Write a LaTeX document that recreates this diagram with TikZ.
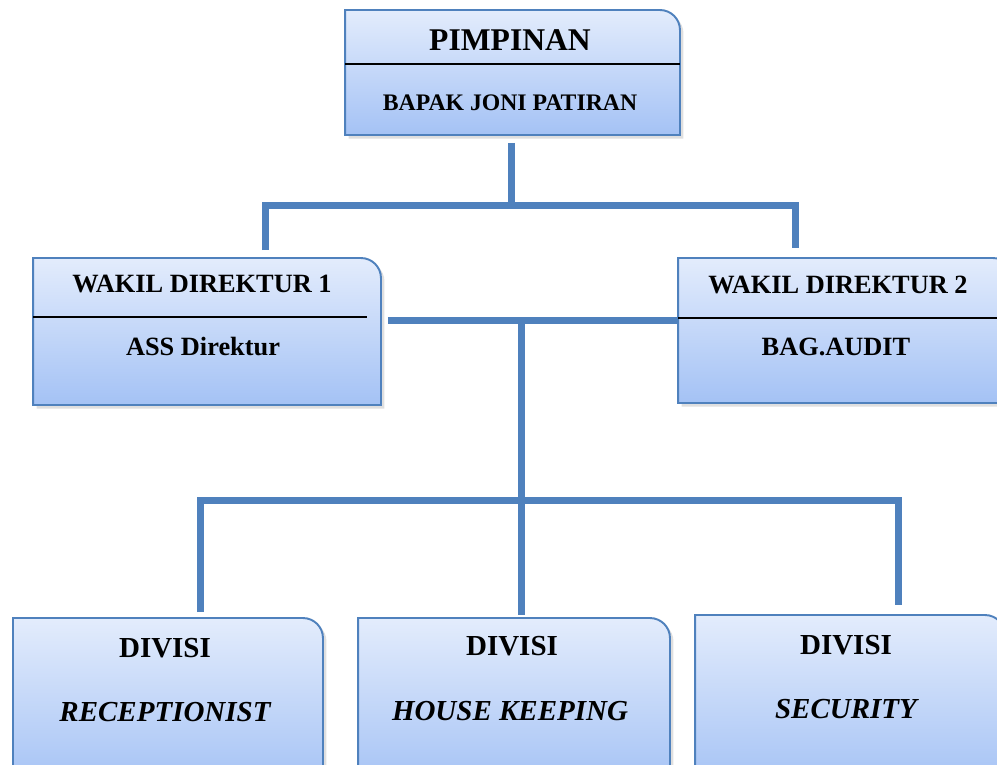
\documentclass[tikz,border=0pt]{standalone}
\usepackage{fontspec}
\setmainfont{Liberation Serif}
\usetikzlibrary{shadows}
\definecolor{BoxTop}{RGB}{227,236,252}
\definecolor{BoxBot}{RGB}{164,194,245}
\definecolor{LineOrg}{RGB}{79,129,189}

% outline of a box with only the top right corner rounded
\newcommand{\orgoutline}[1]{%
  \draw[boxline] (#1.south west) -- (#1.north west) -- ([xshift=-0.4cm]#1.north east)
    arc[start angle=90, end angle=0, radius=0.4cm] -- (#1.south east) -- cycle;}

\begin{document}
\begin{tikzpicture}[x=0.02cm, y=-0.02cm,
    frame/.style={inner sep=0pt, outer sep=0pt},
    boxline/.style={draw=LineOrg, line width=1.1pt, top color=BoxTop, bottom color=BoxBot,
      drop shadow={opacity=0.25, shadow xshift=2pt, shadow yshift=-2pt}},
    divider/.style={black, line width=1.1pt},
    conn/.style={LineOrg, line width=0.14cm},
    title/.style={font=\fontsize{15}{18}\selectfont\bfseries},
    sub/.style={font=\fontsize{15}{18}\selectfont\bfseries},
    divtitle/.style={font=\fontsize{16.5}{20}\selectfont\bfseries},
    divname/.style={font=\fontsize{16.5}{20}\selectfont\bfseries\itshape}
  ]
  \useasboundingbox (0,0) rectangle (997,764);
  \clip (0,0) rectangle (997,764);

  % box frames
  \node[frame, minimum width=6.7cm,  minimum height=2.5cm] (pimpinan) at (512.5,72.5) {};
  \node[frame, minimum width=6.96cm, minimum height=2.94cm] (wakil1) at (207,331.5) {};
  \node[frame, minimum width=6.7cm,  minimum height=2.9cm]  (wakil2) at (845.5,330.5) {};
  \node[frame, minimum width=6.2cm,  minimum height=3.4cm]  (recep)  at (168,703) {};
  \node[frame, minimum width=6.24cm, minimum height=3.4cm]  (house)  at (514,703) {};
  \node[frame, minimum width=6.2cm,  minimum height=3.46cm] (secur)  at (850,701.5) {};

  % connectors
  \coordinate (topjoin) at (511,205);
  \coordinate (midjoin) at (521,320);
  \coordinate (lowjoin) at (521,500);
  \draw[conn] ([yshift=-0.16cm]pimpinan.south -| topjoin) -- (topjoin);
  \draw[conn] ([yshift=0.16cm]wakil1.north -| 265,0) |- (topjoin)
              -| ([yshift=0.2cm]wakil2.north -| 795,0);
  \draw[conn] ([xshift=0.14cm]wakil1.east |- midjoin) -- (wakil2.west |- midjoin);
  \draw[conn] (midjoin) -- (lowjoin);
  \draw[conn] ([yshift=0.12cm]recep.north -| 200,0) |- (lowjoin)
              -| ([yshift=0.2cm]secur.north -| 898,0);
  \draw[conn] (lowjoin) -- ([yshift=0.06cm]house.north -| lowjoin);

  % boxes
  \orgoutline{pimpinan}
  \orgoutline{wakil1}
  \orgoutline{wakil2}
  \orgoutline{recep}
  \orgoutline{house}
  \orgoutline{secur}
  \draw[divider] (pimpinan.west |- 0,64) -- (pimpinan.east |- 0,64);
  \draw[divider] (wakil1.west |- 0,317) -- (367,317);
  \draw[divider] (wakil2.west |- 0,318) -- (wakil2.east |- 0,318);

  % texts
  \node[font=\fontsize{18}{22}\selectfont\bfseries] (pimpinanT) at (510,40) {PIMPINAN};
  \node[font=\fontsize{13.5}{16}\selectfont\bfseries] (pimpinanS) at (510,103) {BAPAK JONI PATIRAN};
  \node[title] (wakil1T) at (202,284) {WAKIL DIREKTUR 1};
  \node[sub]   (wakil1S) at (203,347) {ASS Direktur};
  \node[title] (wakil2T) at (838,285) {WAKIL DIREKTUR 2};
  \node[sub]   (wakil2S) at (836,347) {BAG.AUDIT};
  \node[divtitle] (recepT) at (165,648) {DIVISI};
  \node[divname]  (recepS) at (165,712) {RECEPTIONIST};
  \node[divtitle] (houseT) at (512,646) {DIVISI};
  \node[divname]  (houseS) at (510,711) {HOUSE KEEPING};
  \node[divtitle] (securT) at (846,645) {DIVISI};
  \node[divname]  (securS) at (846,709) {SECURITY};
\end{tikzpicture}
\end{document}
